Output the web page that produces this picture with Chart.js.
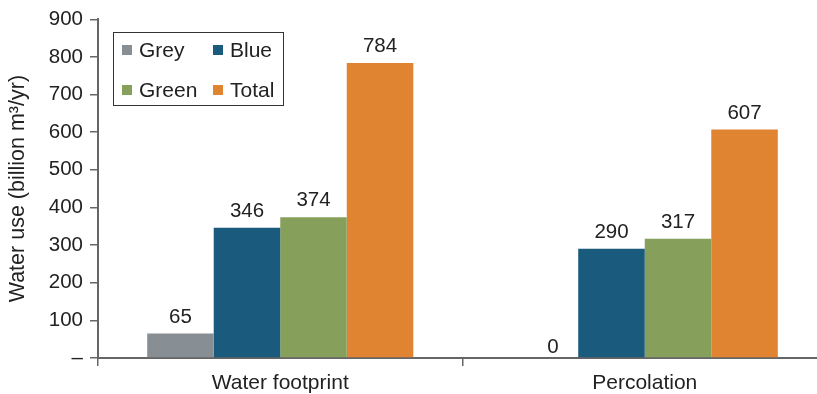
<!DOCTYPE html>
<html>
<head>
<meta charset="utf-8">
<script src="https://cdn.jsdelivr.net/npm/chart.js@4"></script>
<style>
  html, body { margin: 0; padding: 0; background: #fff; }
  #wrap { width: 817px; height: 394px; overflow: hidden; }
  canvas { display: block; }
</style>
</head>
<body>
<div id="wrap"><canvas id="c" width="830" height="394"></canvas></div>
<script>
// Categories and series (billion m3 per year)
const categories = ['Water footprint', 'Percolation'];
const seriesNames = ['Grey', 'Blue', 'Green', 'Total'];
const greyValues  = [65, 0];
const blueValues  = [346, 290];
const greenValues = [374, 317];
const totalValues = [784, 607];
const yTicks = [0, 100, 200, 300, 400, 500, 600, 700, 800, 900];

const colors = ['#878e94', '#1a5a7c', '#86a05c', '#e08432'];
const FONT = 'Liberation Sans';
const TEXT = '#222';
const AXIS = '#666';

const seriesValues = [greyValues, blueValues, greenValues, totalValues];

// Value labels above each bar
const valueLabels = {
  id: 'valueLabels',
  afterDatasetsDraw(chart) {
    const ctx = chart.ctx;
    ctx.save();
    ctx.font = '20.5px "' + FONT + '"';
    ctx.fillStyle = TEXT;
    ctx.textAlign = 'center';
    ctx.textBaseline = 'alphabetic';
    chart.data.datasets.forEach((ds, i) => {
      chart.getDatasetMeta(i).data.forEach((el, j) => {
        const v = ds.data[j];
        // a zero-height bar gets its label nudged right and closer to the axis
        const dx = v === 0 ? 8 : 0;
        const dy = v === 0 ? 5 : 11;
        ctx.fillText(String(v), el.x + dx, el.y - dy);
      });
    });
    ctx.restore();
  }
};

// Boxed two-column legend inside the plot
const boxLegend = {
  id: 'boxLegend',
  afterDraw(chart) {
    const ctx = chart.ctx;
    ctx.save();
    ctx.strokeStyle = '#333';
    ctx.lineWidth = 1;
    ctx.strokeRect(113.5, 32.5, 170, 73);
    ctx.font = '21px "' + FONT + '"';
    ctx.textBaseline = 'middle';
    ctx.textAlign = 'left';
    const cols = [122, 213];
    const rows = [50, 90];
    chart.data.datasets.forEach((ds, i) => {
      const x = cols[i % 2];
      const y = rows[Math.floor(i / 2)];
      ctx.fillStyle = ds.backgroundColor;
      ctx.fillRect(x, y - 5, 10, 10);
      ctx.fillStyle = TEXT;
      ctx.fillText(ds.label, x + 17, y + 1);
    });
    ctx.restore();
  }
};

new Chart(document.getElementById('c'), {
  type: 'bar',
  data: {
    labels: categories,
    datasets: seriesNames.map((name, i) => ({
      label: name,
      data: seriesValues[i],
      backgroundColor: colors[i],
      borderWidth: 0,
      categoryPercentage: 0.73,
      barPercentage: 1.0
    }))
  },
  options: {
    responsive: false,
    animation: false,
    devicePixelRatio: 1,
    layout: { padding: { top: 17, left: 0, right: 3, bottom: 0 } },
    plugins: { legend: { display: false }, tooltip: { enabled: false } },
    scales: {
      x: {
        grid: { display: true, drawOnChartArea: false, tickLength: 8, color: AXIS, lineWidth: 1.5, offset: true },
        border: { color: AXIS, width: 2 },
        ticks: { font: { family: FONT, size: 21 }, color: TEXT, padding: 5 },
        afterFit(s) { s.height = 36; }
      },
      y: {
        min: 0,
        max: 900,
        afterBuildTicks(s) { s.ticks = yTicks.map(v => ({ value: v })); },
        ticks: {
          font: { family: FONT, size: 20.5 },
          color: TEXT,
          padding: 7,
          callback: v => (v === 0 ? '–' : String(v))
        },
        grid: { display: true, drawOnChartArea: false, tickLength: 8, color: AXIS, lineWidth: 1.5 },
        border: { color: AXIS, width: 2 },
        title: {
          display: true,
          text: 'Water use (billion m³/yr)',
          font: { family: FONT, size: 21.5 },
          color: TEXT,
          padding: { top: 5, bottom: 0 }
        },
        afterFit(s) { s.width = 98; }
      }
    }
  },
  plugins: [valueLabels, boxLegend]
});
</script>
</body>
</html>
